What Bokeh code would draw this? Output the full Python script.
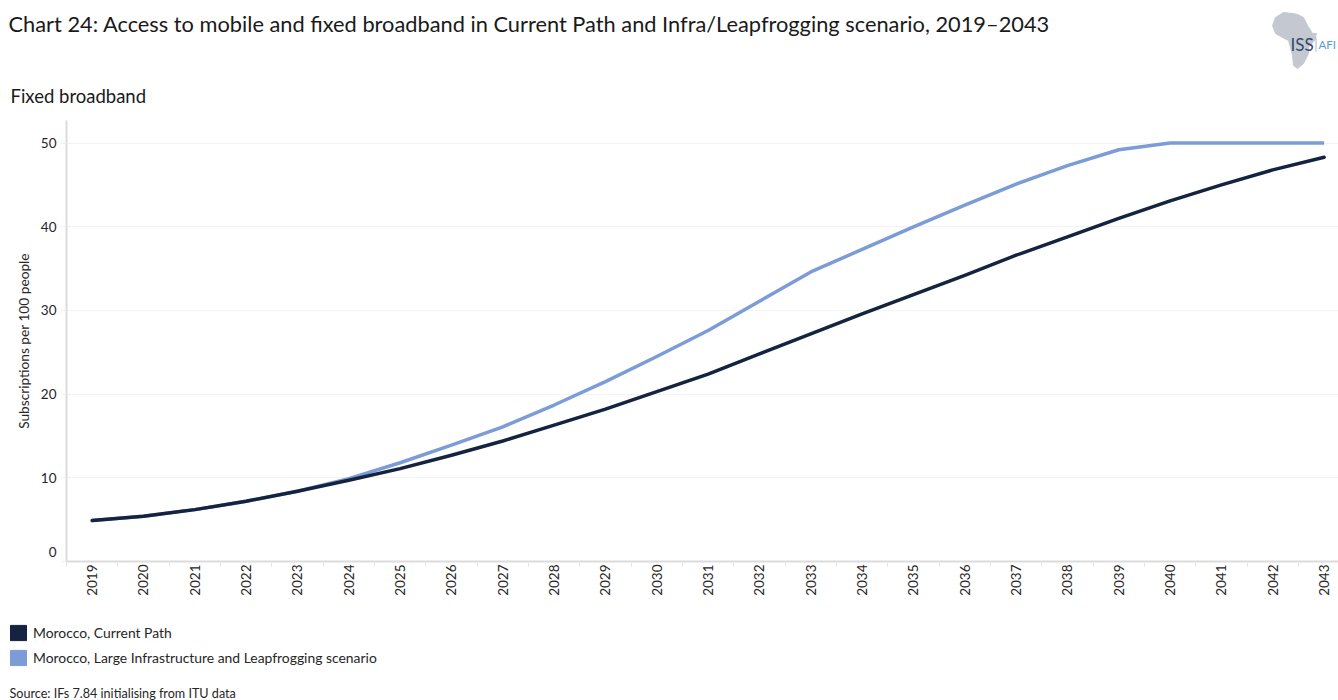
from bokeh.core.properties import value
from bokeh.embed import file_html
from bokeh.layouts import column
from bokeh.models import FixedTicker, Legend, LegendItem, Range1d
from bokeh.plotting import figure
from bokeh.resources import INLINE

# Subscriptions per 100 people, Morocco
years = list(range(2019, 2044))
current_path = [4.9, 5.4, 6.2, 7.2, 8.4, 9.7, 11.1, 12.7, 14.4, 16.3, 18.2, 20.3, 22.4,
                24.8, 27.2, 29.6, 31.9, 34.2, 36.6, 38.8, 41.0, 43.1, 45.0, 46.8, 48.3]
leapfrog = [4.9, 5.4, 6.2, 7.2, 8.4, 9.9, 11.8, 13.9, 16.1, 18.7, 21.5, 24.5, 27.6,
            31.1, 34.6, 37.3, 40.0, 42.6, 45.1, 47.3, 49.2, 50.0, 50.0, 50.0, 50.0]
y_ticks = [0, 10, 20, 30, 40, 50]

title = "Chart 24: Access to mobile and fixed broadband in Current Path and Infra/Leapfrogging scenario, 2019–2043"
subtitle = "Fixed broadband"
y_label = "Subscriptions per 100 people"
source = "Source: IFs 7.84 initialising from ITU data"
series_names = ["Morocco, Current Path", "Morocco, Large Infrastructure and Leapfrogging scenario"]

# Outline of the continent in the ISS Africa mark
africa_x = [1272, 1275, 1283, 1292, 1297, 1303, 1307, 1312, 1316, 1314, 1308, 1308, 1303, 1297, 1293, 1292, 1290, 1288, 1282, 1275]
africa_y = [25, 17, 12, 13, 14, 17, 25, 33, 33, 40, 47, 53, 63, 68, 65, 55, 47, 40, 37, 33]

NAVY = "#14233f"
BLUE = "#7b9cd6"
INK = "#262626"
FONT = "Lato"
W = 1338
HEADER_H, CHART_H, FOOTER_H = 120, 480, 100


def text_strip(height, y_top):
    """Axis-free strip whose data coordinates are page pixels."""
    s = figure(width=W, height=height, output_backend="svg", toolbar_location=None,
               x_range=Range1d(0, W), y_range=Range1d(y_top + height, y_top),
               x_axis_location=None, y_axis_location=None, min_border=0, frame_align=False)
    s.outline_line_color = None
    s.grid.visible = False
    return s


def note(s, text, x, y, size, color=INK):
    s.text([x], [y], text=[text], text_font=value(FONT), text_font_size=size,
           text_color=color, text_baseline="middle", text_align="left")


# Heading and logo
head = text_strip(HEADER_H, 0)
note(head, title, 8, 22.5, "21.8px", "#1a1a1a")
note(head, subtitle, 10, 95, "18.5px", "#1a1a1a")
head.patch(africa_x, africa_y, fill_color="#c4c9d1", line_color="#c4c9d1")
note(head, "ISS", 1290, 44, "17px", "#2f4a6f")
head.quad(left=[1315], right=[1316], top=[37], bottom=[51], fill_color="#9db8d6", line_color=None)
note(head, "AFI", 1318, 44, "11.5px", "#5b9bd5")

# Line chart
p = figure(width=W, height=CHART_H, output_backend="svg", toolbar_location=None,
           x_range=Range1d(2018.5, 2043.28), y_range=Range1d(0, 52.7), frame_align=False,
           min_border_left=66, min_border_right=0, min_border_top=0, min_border_bottom=39)
p.outline_line_color = None
p.xgrid.visible = False
p.ygrid.grid_line_color = "#f3f3f3"
p.ygrid.ticker = FixedTicker(ticks=y_ticks[1:])

xa = p.xaxis[0]
xa.ticker = FixedTicker(ticks=years, minor_ticks=[y - 0.5 for y in years])
xa.major_tick_line_color = None
xa.minor_tick_line_color = "#e6e6e6"
xa.minor_tick_in = 0
xa.minor_tick_out = 5
xa.axis_line_color = "#dcdcdc"
xa.axis_line_width = 2
xa.major_label_orientation = 1.5708
xa.major_label_standoff = -3
xa.major_label_text_font = FONT
xa.major_label_text_font_size = "13.5px"
xa.major_label_text_color = INK

ya = p.yaxis[0]
ya.ticker = FixedTicker(ticks=y_ticks)
ya.major_label_overrides = {0: "0\n"}  # the zero label sits above the axis line
ya.major_tick_line_color = "#eeeeee"
ya.major_tick_in = 0
ya.major_tick_out = 5
ya.minor_tick_line_color = None
ya.axis_line_color = "#dcdcdc"
ya.axis_line_width = 2
ya.major_label_standoff = 5
ya.major_label_text_font = FONT
ya.major_label_text_font_size = "13.5px"
ya.major_label_text_color = INK
ya.axis_label = y_label
ya.axis_label_text_font = FONT
ya.axis_label_text_font_style = "normal"
ya.axis_label_text_font_size = "13.7px"
ya.axis_label_text_color = INK
ya.axis_label_standoff = 6

p.line(years, leapfrog, line_color=BLUE, line_width=3.5, line_join="round")
p.line(years, current_path, line_color=NAVY, line_width=3.5, line_cap="round", line_join="round")

# Legend and source line; the swatch quads lie outside the strip, only their legend keys show
foot = text_strip(FOOTER_H, 600)
swatch_a = foot.quad(left=[-40], right=[-30], top=[590], bottom=[580], fill_color=NAVY, line_color=NAVY)
swatch_b = foot.quad(left=[-40], right=[-30], top=[590], bottom=[580], fill_color=BLUE, line_color=BLUE)
legend = Legend(items=[LegendItem(label=series_names[0], renderers=[swatch_a]),
                       LegendItem(label=series_names[1], renderers=[swatch_b])],
                location=(8, 33), orientation="vertical", background_fill_alpha=0,
                border_line_color=None, padding=0, margin=0, spacing=6,
                glyph_width=20, glyph_height=19, label_height=19, label_standoff=5,
                label_text_font=FONT, label_text_font_size="13.9px", label_text_color=INK)
foot.add_layout(legend, "center")
note(foot, source, 9, 692.5, "12.6px")

page = column(head, p, foot, spacing=0)
open("out.html", "w").write(file_html(page, INLINE))
